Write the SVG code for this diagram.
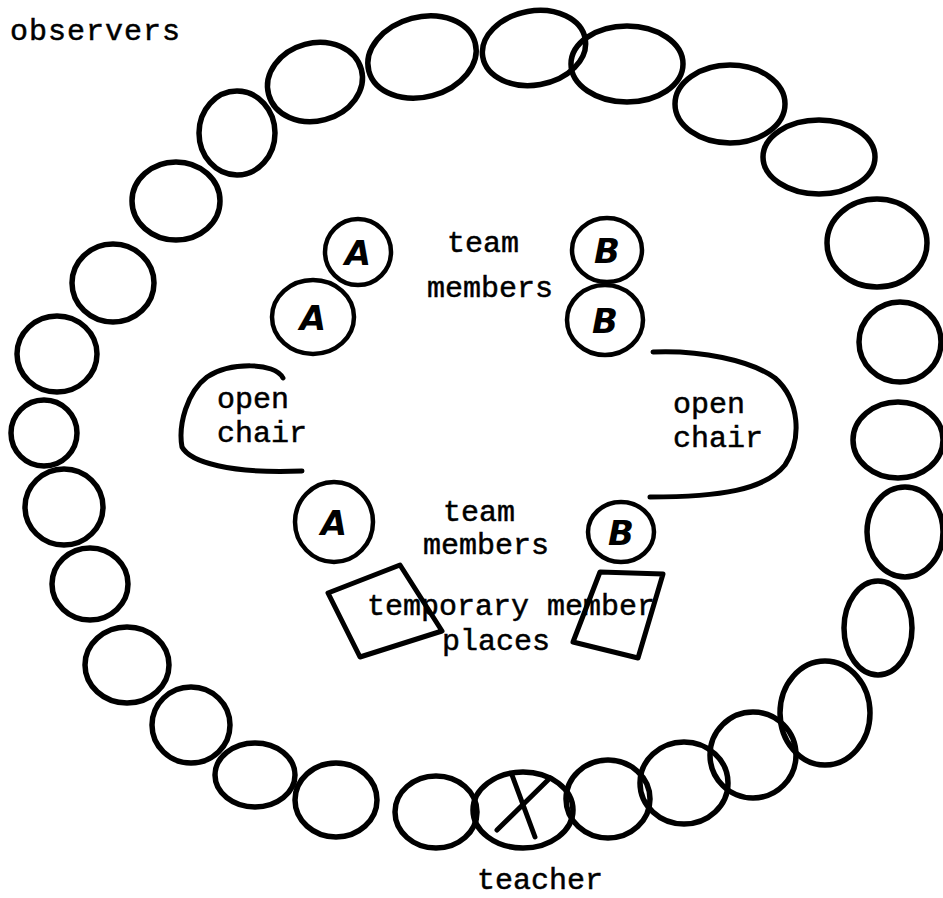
<svg xmlns="http://www.w3.org/2000/svg" width="943" height="898" viewBox="0 0 943 898">
<style>
.obs{fill:none;stroke:#000;stroke-width:5.5}
.mem{fill:none;stroke:#000;stroke-width:4.5}
.chair{fill:none;stroke:#000;stroke-width:5;stroke-linecap:round;stroke-linejoin:round}
.t{font-family:"Liberation Mono","Courier New",monospace;font-size:30px;fill:#000;stroke:#000;stroke-width:0.5}
.h{font-family:"DejaVu Sans",sans-serif;font-size:34px;font-weight:bold;font-style:italic;fill:#000;text-anchor:middle}
</style>
<rect width="943" height="898" fill="#fff"/>
<text class="t" x="10" y="40" textLength="170">observers</text>
<g id="observers">
<ellipse class="obs" cx="113" cy="283" rx="41" ry="39"/>
<ellipse class="obs" cx="176" cy="201" rx="44" ry="39"/>
<ellipse class="obs" cx="237" cy="133" rx="38" ry="42"/>
<ellipse class="obs" cx="315" cy="82" rx="48" ry="39" transform="rotate(-15 315 82)"/>
<ellipse class="obs" cx="422" cy="57" rx="55" ry="40" transform="rotate(-15 422 57)"/>
<ellipse class="obs" cx="534" cy="48" rx="52" ry="37" transform="rotate(-10 534 48)"/>
<ellipse class="obs" cx="627" cy="64" rx="56" ry="38"/>
<ellipse class="obs" cx="730" cy="104" rx="55" ry="39"/>
<ellipse class="obs" cx="819" cy="157" rx="56" ry="37"/>
<ellipse class="obs" cx="877" cy="243" rx="50" ry="44"/>
<ellipse class="obs" cx="900" cy="342" rx="41" ry="40"/>
<ellipse class="obs" cx="898" cy="440" rx="45" ry="38"/>
<ellipse class="obs" cx="905" cy="532" rx="38" ry="45"/>
<ellipse class="obs" cx="878" cy="628" rx="34" ry="47"/>
<ellipse class="obs" cx="825" cy="713" rx="45" ry="52"/>
<ellipse class="obs" cx="753" cy="755" rx="43" ry="43"/>
<ellipse class="obs" cx="684" cy="783" rx="44" ry="41"/>
<ellipse class="obs" cx="608" cy="799" rx="42" ry="39"/>
<ellipse class="obs" cx="436" cy="812" rx="41" ry="36"/>
<ellipse class="obs" cx="336" cy="800" rx="41" ry="37"/>
<ellipse class="obs" cx="255" cy="775" rx="40" ry="32"/>
<ellipse class="obs" cx="191" cy="725" rx="39" ry="38"/>
<ellipse class="obs" cx="127" cy="665" rx="42" ry="38"/>
<ellipse class="obs" cx="90" cy="584" rx="38" ry="36"/>
<ellipse class="obs" cx="64" cy="507" rx="39" ry="38"/>
<ellipse class="obs" cx="44" cy="433" rx="33" ry="33"/>
<ellipse class="obs" cx="57" cy="354" rx="40" ry="38"/>
</g>
<g id="teacher">
<ellipse class="obs" cx="523" cy="810" rx="50" ry="38"/>
<path class="chair" d="M512 775 L535 837 M550 778 L497 830"/>
<text class="t" x="477" y="889">teacher</text>
</g>
<g id="team-a">
<ellipse class="mem" cx="358" cy="252" rx="33" ry="33"/>
<text class="h" x="358" y="265">A</text>
<ellipse class="mem" cx="313" cy="317" rx="41" ry="37"/>
<text class="h" x="313" y="330">A</text>
<ellipse class="mem" cx="334" cy="522" rx="39" ry="40"/>
<text class="h" x="334" y="535">A</text>
</g>
<g id="team-b">
<ellipse class="mem" cx="607" cy="250" rx="35" ry="32"/>
<text class="h" x="607" y="263">B</text>
<ellipse class="mem" cx="605" cy="320" rx="38" ry="35"/>
<text class="h" x="605" y="333">B</text>
<ellipse class="mem" cx="621" cy="532" rx="33" ry="30"/>
<text class="h" x="621" y="545">B</text>
</g>
<g id="team-labels">
<text class="t" x="447" y="252">team</text>
<text class="t" x="427" y="297">members</text>
<text class="t" x="443" y="521">team</text>
<text class="t" x="423" y="554">members</text>
</g>
<g id="open-chair-left">
<path class="chair" d="M283 378 C275 362 230 362 207 377 C187 392 178 425 182 447 C190 462 230 474 302 471"/>
<text class="t" x="217" y="408">open</text>
<text class="t" x="217" y="442">chair</text>
</g>
<g id="open-chair-right">
<path class="chair" d="M653 352 C700 350 750 360 775 378 C800 400 802 440 785 465 C765 490 720 497 650 497"/>
<text class="t" x="673" y="413">open</text>
<text class="t" x="673" y="447">chair</text>
</g>
<g id="temporary-places">
<path class="chair" d="M328 593 L400 565 L442 631 L360 657 Z"/>
<path class="chair" d="M600 572 L663 574 L638 658 L573 642 Z"/>
<text class="t" x="367" y="615">temporary member</text>
<text class="t" x="442" y="650">places</text>
</g>
</svg>
